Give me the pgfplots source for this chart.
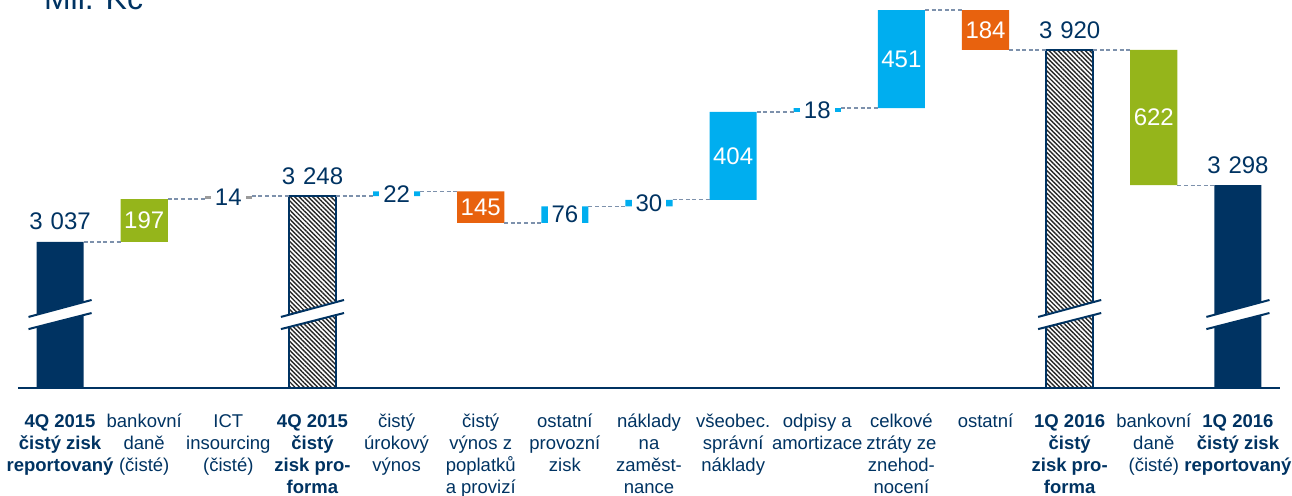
\documentclass[border=0pt]{standalone}
\usepackage{fontspec}
\setmainfont{Liberation Sans}
\usepackage{pgfplots}
\pgfplotsset{compat=1.18}
\usepackage{pgfplotstable}
\usetikzlibrary{patterns.meta}
\definecolor{navy}{RGB}{0,51,98}
\definecolor{kgreen}{RGB}{149,181,27}
\definecolor{kblue}{RGB}{0,174,239}
\definecolor{korange}{RGB}{232,98,14}
\definecolor{kgrey}{RGB}{155,155,155}
\definecolor{kdash}{RGB}{125,145,172}

\pgfplotstableread{
x hatch navy base green grey blue orange
1  0    3037 0    0   0  0   0
2  0    0    3037 197 0  0   0
3  0    0    3234 0   14 0   0
4  3248 0    0    0   0  0   0
5  0    0    3248 0   0  22  0
6  0    0    3125 0   0  0   145
7  0    0    3125 0   0  76  0
8  0    0    3201 0   0  30  0
9  0    0    3231 0   0  404 0
10 0    0    3635 0   0  18  0
11 0    0    3653 0   0  451 0
12 0    0    3920 0   0  0   184
13 3920 0    0    0   0  0   0
14 0    0    3298 622 0  0   0
15 0    3298 0    0   0  0   0
}\bars

\pgfplotstableread{
x y
1.28 3037
1.72 3037
nan nan
2.28 3234
2.72 3234
nan nan
3.28 3248
3.72 3248
nan nan
4.28 3248
4.72 3248
nan nan
5.28 3270
5.72 3270
nan nan
6.28 3125
6.72 3125
nan nan
7.28 3201
7.72 3201
nan nan
8.28 3231
8.72 3231
nan nan
9.28 3635
9.72 3635
nan nan
10.28 3653
10.72 3653
nan nan
11.28 4104
11.72 4104
nan nan
12.28 3920
12.72 3920
nan nan
13.28 3920
13.72 3920
nan nan
14.28 3298
14.72 3298
}\links

\pgfplotstableread{
x y
0.625 2636
1.375 2710
nan nan
0.625 2692
1.375 2770
nan nan
3.625 2636
4.375 2710
nan nan
3.625 2692
4.375 2770
nan nan
12.625 2636
13.375 2710
nan nan
12.625 2692
13.375 2770
nan nan
14.625 2636
15.375 2710
nan nan
14.625 2692
15.375 2770
}\breaklines

\pgfplotsset{base/.style={width=631pt,height=194pt,scale only axis,
  xmin=0.5,xmax=15.5,ymin=2365,ymax=4150,enlargelimits=false,
  at={(0,0)},anchor=south west}}

\begin{document}
\begin{tikzpicture}
\begin{axis}[base, hide axis, ybar stacked, bar width=0.56]
\addplot[draw=navy, line width=1pt, pattern={Lines[angle=-45,distance=1.6pt,line width=0.7pt]}, pattern color=black!85] table[x=x,y=hatch]{\bars};
\addplot[fill=navy, draw=none] table[x=x,y=navy]{\bars};
\addplot[draw=none, fill=none] table[x=x,y=base]{\bars};
\addplot[fill=kgreen, draw=none] table[x=x,y=green]{\bars};
\addplot[fill=kgrey, draw=none] table[x=x,y=grey]{\bars};
\addplot[fill=kblue, draw=none] table[x=x,y=blue]{\bars};
\addplot[fill=korange, draw=none] table[x=x,y=orange]{\bars};
\end{axis}
\begin{axis}[base, name=ax, axis x line*=bottom, axis y line=none, ytick=\empty,
  x axis line style={navy, line width=1pt},
  xtick={1,...,15}, major tick length=0pt, xtick style={draw=none},
  typeset ticklabels with strut,
  xticklabel style={font=\fontsize{9.25}{11}\selectfont, text=navy, align=center, inner sep=0pt, anchor=north, yshift=-11.8pt},
  xticklabels={
    {\textbf{4Q 2015}\\\textbf{čistý zisk}\\\textbf{reportovaný}},
    {bankovní\\daně\\(čisté)},
    {ICT\\insourcing\\(čisté)},
    {\textbf{4Q 2015}\\\textbf{čistý}\\\textbf{zisk pro-}\\\textbf{forma}},
    {čistý\\úrokový\\výnos},
    {čistý\\výnos z\\poplatků\\a provizí},
    {ostatní\\provozní\\zisk},
    {náklady\\na\\zaměst-\\nance},
    {všeobec.\\správní\\náklady},
    {odpisy a\\amortizace},
    {celkové\\ztráty ze\\znehod-\\nocení},
    {ostatní},
    {\textbf{1Q 2016}\\\textbf{čistý}\\\textbf{zisk pro-}\\\textbf{forma}},
    {bankovní\\daně\\(čisté)},
    {\textbf{1Q 2016}\\\textbf{čistý zisk}\\\textbf{reportovaný}}
  }]
% axis breaks
\addplot[fill=white, draw=none, forget plot] coordinates {(0.625,2636) (1.375,2710) (1.375,2770) (0.625,2692)} --cycle;
\addplot[fill=white, draw=none, forget plot] coordinates {(3.625,2636) (4.375,2710) (4.375,2770) (3.625,2692)} --cycle;
\addplot[fill=white, draw=none, forget plot] coordinates {(12.625,2636) (13.375,2710) (13.375,2770) (12.625,2692)} --cycle;
\addplot[fill=white, draw=none, forget plot] coordinates {(14.625,2636) (15.375,2710) (15.375,2770) (14.625,2692)} --cycle;
\addplot[navy, line width=1pt, mark=none, unbounded coords=jump] table[x=x,y=y]{\breaklines};
% connectors
\addplot[kdash, line width=0.7pt, dash pattern=on 2pt off 1.3pt, mark=none, unbounded coords=jump] table[x=x,y=y]{\links};
% total labels
\addplot[draw=none, mark=none, nodes near coords, point meta=explicit symbolic,
  nodes near coords style={anchor=base, yshift=6pt, text=navy, font=\fontsize{12}{14}\selectfont, inner sep=0pt}]
  coordinates {(1,3037)[3\hspace{0.33em}037] (4,3248)[3\hspace{0.33em}248] (13,3920)[3\hspace{0.33em}920] (15,3298)[3\hspace{0.33em}298]};
% labels inside boxes
\addplot[draw=none, mark=none, nodes near coords, point meta=explicit symbolic,
  nodes near coords style={anchor=center, text=white, font=\fontsize{12}{14}\selectfont, inner sep=0pt}]
  coordinates {(2,3135.5)[197] (6,3197.5)[145] (9,3433)[404] (11,3878.5)[451] (12,4012)[184] (14,3609)[622]};
% small labels
\addplot[draw=none, mark=none, nodes near coords, point meta=explicit symbolic,
  nodes near coords style={anchor=center, text=navy, fill=white, font=\fontsize{12}{14}\selectfont, inner xsep=2pt, inner ysep=1pt}]
  coordinates {(3,3241)[14] (5,3259)[22] (7,3163)[76] (8,3216)[30] (10,3644)[18]};
% unit
\node[anchor=base west, text=navy, font=\fontsize{16}{18}\selectfont] at (rel axis cs:0,1) [xshift=9.5pt, yshift=-4.5pt] {Mil. Kč};
\end{axis}
\pgfresetboundingbox
\path[use as bounding box] (-9pt,-53.5pt) rectangle (637pt,194pt);
\end{tikzpicture}
\end{document}
